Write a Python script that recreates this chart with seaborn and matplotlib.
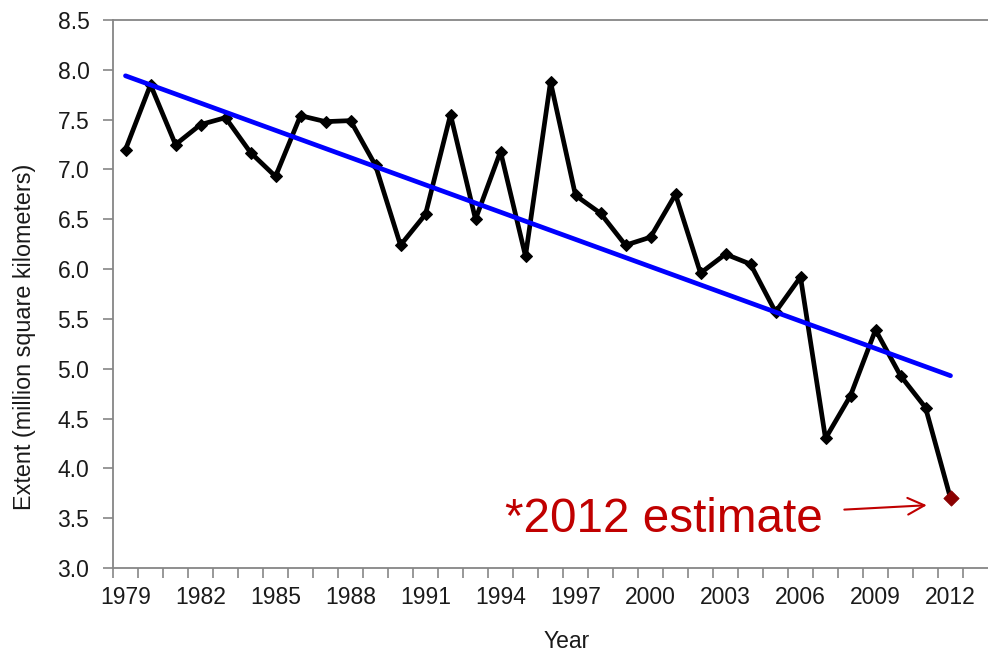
import matplotlib
matplotlib.use("Agg")
import matplotlib.pyplot as plt
import seaborn as sns
import pandas as pd
import numpy as np

years = list(range(1979, 2013))
extent = [7.20, 7.85, 7.25, 7.45, 7.52, 7.17, 6.93, 7.54, 7.48, 7.49,
          7.04, 6.24, 6.55, 7.55, 6.50, 7.18, 6.13, 7.88, 6.74, 6.56,
          6.24, 6.32, 6.75, 5.96, 6.15, 6.05, 5.57, 5.92, 4.30, 4.73,
          5.39, 4.93, 4.61, 3.70]
trend_years = [1979, 2012]
trend_values = [7.94, 4.93]
tick_years = list(range(1979, 2013, 3))
yticks = [3.0, 3.5, 4.0, 4.5, 5.0, 5.5, 6.0, 6.5, 7.0, 7.5, 8.0, 8.5]

sns.set_theme(style="ticks")
plt.rcParams['font.family'] = ['Liberation Sans', 'DejaVu Sans']

df = pd.DataFrame({"Year": years, "Extent": extent})
df_est = df.iloc[-1:]
df_trend = pd.DataFrame({"Year": trend_years, "Extent": trend_values})

fig = plt.figure(figsize=(9.88, 6.52), dpi=100)
ax = fig.add_axes([113/988, 84/652, 1 - 113/988, 548/652])

sns.lineplot(data=df, x="Year", y="Extent", ax=ax, color="black", lw=3.4,
             marker="D", markersize=6.5, markeredgecolor="black",
             markerfacecolor="black", zorder=3)
sns.lineplot(data=df_trend, x="Year", y="Extent", ax=ax, color="#0000FF", lw=3.4,
             zorder=4)
sns.scatterplot(data=df_est, x="Year", y="Extent", ax=ax, color="#8B0000",
                marker="D", s=60, edgecolor="#8B0000", zorder=5)

ax.set_xlim(1978.5, 2013.5)
ax.set_ylim(3.0, 8.5)
ax.set_yticks(yticks)
ax.set_yticklabels([f"{v:.1f}" for v in yticks])
ax.set_xticks(tick_years)
ax.set_xticklabels([str(y) for y in tick_years])
ax.set_xticks(np.arange(1978.5, 2013.0, 1.0), minor=True)

spine_col = "#868686"
for s in ["left", "bottom", "top"]:
    ax.spines[s].set_color(spine_col)
    ax.spines[s].set_linewidth(1.3)
ax.spines["right"].set_visible(False)

ax.tick_params(axis="y", direction="out", length=7, width=1.2, color=spine_col,
               labelsize=16.5, pad=10, labelcolor="#1a1a1a")
ax.tick_params(axis="x", which="major", length=0, labelsize=16.5, pad=13,
               labelcolor="#1a1a1a")
ax.tick_params(axis="x", which="minor", direction="out", length=7, width=1.2,
               color=spine_col)

ax.set_xlabel("Year", fontsize=16.5, color="#1a1a1a", va="center")
ax.set_ylabel("Extent (million square kilometers)", fontsize=16.8,
              color="#1a1a1a", va="center")
ax.xaxis.set_label_coords((567 - 113) / 875, -(642 - 568) / 548)
ax.yaxis.set_label_coords(-(113 - 25) / 875, (568 - 337) / 548)

ax.annotate("*2012 estimate", xy=(2011.05, 3.63), xytext=(2006.9, 3.49),
            fontsize=34.3, color="#C00000", ha="right", va="center",
            arrowprops=dict(arrowstyle="->", color="#C00000", lw=1.5,
                            mutation_scale=30, shrinkA=13, shrinkB=0))

fig.savefig("out.png", dpi=100)
